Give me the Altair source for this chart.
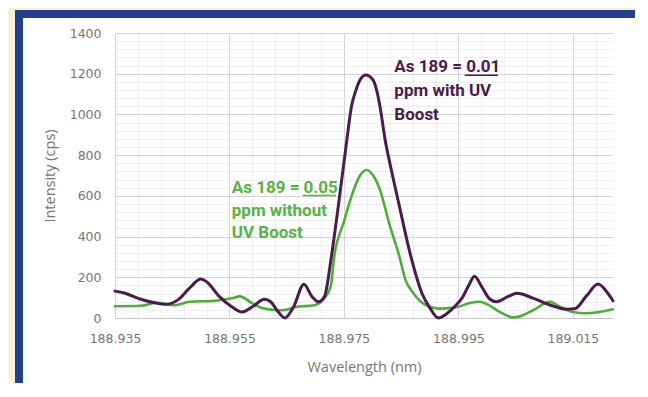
import altair as alt
import pandas as pd

# ---- data ----
purple_wl = [188.9350, 188.9366, 188.9395, 188.9424, 188.9438, 188.9460, 188.9481, 188.9500, 188.9510, 188.9532,
             188.9554, 188.9572, 188.9590, 188.9611, 188.9622, 188.9633, 188.9647, 188.9662, 188.9680, 188.9694,
             188.9705, 188.9716, 188.9728, 188.9740, 188.9755, 188.9763, 188.9771, 188.9778, 188.9788, 188.9801,
             188.9807, 188.9813, 188.9822, 188.9834, 188.9847, 188.9867, 188.9886, 188.9900, 188.9915, 188.9929,
             188.9943, 188.9958, 188.9969, 188.9978, 188.9990, 189.0005, 189.0016, 189.0037, 189.0052, 189.0080,
             189.0110, 189.0139, 189.0153, 189.0174, 189.0194, 189.0209, 189.0220]
purple_val = [132, 123, 92, 72, 67, 89, 149, 191, 178, 106,
              55, 29, 55, 92, 80, 38, 0, 55, 166, 106,
              80, 106, 301, 547, 874, 1038, 1120, 1169, 1194, 1169,
              1120, 1038, 874, 711, 547, 301, 123, 50, 0, 20,
              55, 106, 166, 205, 157, 92, 80, 106, 121, 98,
              64, 43, 45, 110, 167, 129, 85]

green_wl = [188.9350, 188.9395, 188.9424, 188.9453, 188.9481, 188.9525, 188.9554, 188.9568, 188.9590, 188.9611,
            188.9640, 188.9669, 188.9698, 188.9716, 188.9727, 188.9733, 188.9749, 188.9767, 188.9778, 188.9790,
            188.9801, 188.9813, 188.9829, 188.9847, 188.9857, 188.9871, 188.9893, 188.9915, 188.9943, 188.9972,
            188.9987, 189.0008, 189.0022, 189.0046, 189.0057, 189.0081, 189.0110, 189.0127, 189.0148, 189.0174,
            189.0220]
green_val = [58, 60, 75, 63, 80, 85, 97, 106, 72, 46,
             38, 55, 63, 97, 157, 301, 465, 629, 700, 727,
             700, 629, 465, 301, 191, 123, 63, 46, 51, 75,
             80, 55, 30, 3, 8, 39, 80, 56, 31, 23,
             43]

x_grid = [round(188.935 + 0.004 * i, 3) for i in range(22)]
y_grid = list(range(0, 1401, 40))

purple_text = ["As 189 = 0.01", "ppm with UV", "Boost"]
purple_text_wl = [188.9838, 188.9838, 188.9838]
purple_text_val = [1206, 1090, 974]
purple_ul = {"wl": [188.9961], "wl2": [189.0019], "val": [1193]}

green_text = ["As 189 = 0.05", "ppm without", "UV Boost"]
green_text_wl = [188.9554, 188.9554, 188.9554]
green_text_val = [615, 503, 391]
green_ul = {"wl": [188.9678], "wl2": [188.9736], "val": [602]}

PURPLE = "#4C1A4C"
GREEN = "#4DAF3A"
GREEN_TXT = "#55B444"
BLUE = "#243F8E"
CREAM = "#F8EFDC"
LABEL = "#767676"

xs = alt.Scale(domain=[188.935, 189.022], nice=False, zero=False)
ys = alt.Scale(domain=[0, 1400], nice=False, zero=True)

x_major_test = "abs((datum.value - 188.935) / 0.02 - round((datum.value - 188.935) / 0.02)) < 0.01"
y_major_test = "datum.value % 200 === 0"

x_axis = alt.Axis(
    values=x_grid,
    labelExpr=f"{x_major_test} ? format(datum.value, '.3f') : ''",
    grid=True,
    gridColor={"condition": {"test": x_major_test, "value": "#d4d4d4"}, "value": "#eeeeee"},
    gridWidth=1,
    ticks=False,
    domain=True,
    domainColor="#c4c4c4",
    domainWidth=1.2,
    labelColor=LABEL,
    labelFont="DejaVu Sans",
    labelFontSize=12.5,
    labelPadding=14,
    labelOverlap=False,
    labelFlush=False,
    title="Wavelength (nm)",
    titleFont="Open Sans",
    titleFontSize=14.5,
    titleFontWeight="normal",
    titleColor=LABEL,
    titlePadding=16,
)

y_axis = alt.Axis(
    values=y_grid,
    labelExpr=f"{y_major_test} ? format(datum.value, 'd') : ''",
    grid=True,
    gridColor={"condition": {"test": y_major_test, "value": "#d4d4d4"}, "value": "#eeeeee"},
    gridWidth=1,
    ticks=False,
    domain=False,
    labelColor=LABEL,
    labelFont="DejaVu Sans",
    labelFontSize=12.5,
    labelPadding=14,
    labelOverlap=False,
    labelFlush=False,
    title="Intensity (cps)",
    titleFont="Open Sans",
    titleFontSize=14.5,
    titleFontWeight="normal",
    titleColor=LABEL,
    titlePadding=12,
)


def X():
    return alt.X("wl:Q", scale=xs, axis=x_axis)


def Y():
    return alt.Y("val:Q", scale=ys, axis=y_axis)


# decorative page frame (cream strip + dark blue border), in pixels around the plot
dummy = pd.DataFrame({"k": [0]})


def band(color, x0, x1, y0, y1):
    return alt.Chart(dummy).mark_rect(color=color, strokeWidth=0).encode(
        x=alt.value(x0), x2=alt.value(x1), y=alt.value(y0), y2=alt.value(y1)
    )


frame = [
    band(CREAM, -107, -100, -25, 360),   # left cream strip
    band(CREAM, -107, 520, -25, -23),    # top cream strip
    band(BLUE, -100, -92, -23, 360),     # left blue border
    band(BLUE, -100, 520, -23, -15),     # top blue border
]

green_line = alt.Chart(pd.DataFrame({"wl": green_wl, "val": green_val})).mark_line(
    color=GREEN, strokeWidth=2.6, interpolate="monotone", strokeCap="round", strokeJoin="round"
).encode(x=X(), y=Y())

purple_line = alt.Chart(pd.DataFrame({"wl": purple_wl, "val": purple_val})).mark_line(
    color=PURPLE, strokeWidth=3, interpolate="monotone", strokeCap="round", strokeJoin="round"
).encode(x=X(), y=Y())

text_style = dict(align="left", baseline="alphabetic", font="Roboto", fontWeight="bold", fontSize=17)

purple_lbl = alt.Chart(pd.DataFrame({"wl": purple_text_wl, "val": purple_text_val, "txt": purple_text})).mark_text(
    color=PURPLE, **text_style
).encode(x=X(), y=Y(), text="txt:N")

green_lbl = alt.Chart(pd.DataFrame({"wl": green_text_wl, "val": green_text_val, "txt": green_text})).mark_text(
    color=GREEN_TXT, **text_style
).encode(x=X(), y=Y(), text="txt:N")

purple_underline = alt.Chart(pd.DataFrame(purple_ul)).mark_rule(color=PURPLE, strokeWidth=1.5).encode(
    x=X(), x2="wl2:Q", y=Y()
)
green_underline = alt.Chart(pd.DataFrame(green_ul)).mark_rule(color=GREEN_TXT, strokeWidth=1.5).encode(
    x=X(), x2="wl2:Q", y=Y()
)

chart = alt.layer(
    *frame, green_line, purple_line,
    green_lbl, purple_lbl, green_underline, purple_underline
).properties(
    width=498,
    height=285,
    autosize=alt.AutoSizeParams(type="none"),
    padding={"left": 107, "top": 25, "right": 27, "bottom": 65},
    background="white",
).configure_view(strokeWidth=0)

chart.save("out.html", embed_options={"renderer": "svg", "actions": False})
